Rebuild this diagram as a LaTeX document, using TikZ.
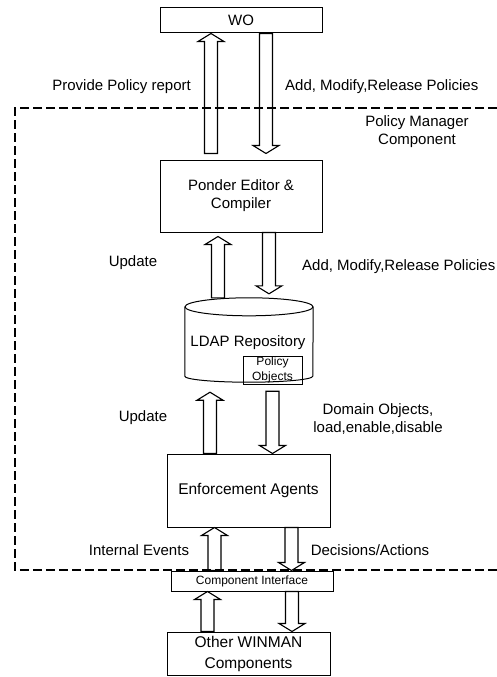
\documentclass[tikz,border=0pt]{standalone}
\usepackage{fontspec}
\setmainfont{Liberation Sans}
\usetikzlibrary{calc}

% hollow block arrows, drawn from #1 (tail) to #2 (tip)
\newcommand{\fatup}[2]{\draw[blockarr] let \p1=(#1), \p2=(#2) in
  (\x1-6.5pt,\y1) -- (\x1-6.5pt,\y2-8pt) -- (\x1-13pt,\y2-8pt) -- (\x1,\y2)
  -- (\x1+13pt,\y2-8pt) -- (\x1+6.5pt,\y2-8pt) -- (\x1+6.5pt,\y1) -- cycle;}
\newcommand{\fatdn}[2]{\draw[blockarr] let \p1=(#1), \p2=(#2) in
  (\x1-6.5pt,\y1) -- (\x1-6.5pt,\y2+8pt) -- (\x1-13pt,\y2+8pt) -- (\x1,\y2)
  -- (\x1+13pt,\y2+8pt) -- (\x1+6.5pt,\y2+8pt) -- (\x1+6.5pt,\y1) -- cycle;}

\begin{document}
\begin{tikzpicture}[x=1pt,y=-1pt,
    box/.style={draw,line width=1pt,inner sep=0pt,align=center,font=\fontsize{15}{18}\selectfont},
    lbl/.style={inner sep=0pt,align=center,font=\fontsize{15}{18}\selectfont},
    small/.style={font=\fontsize{12}{15}\selectfont},
    blockarr/.style={line width=1.1pt,line join=miter}]
    \useasboundingbox (0,0) rectangle (497,677);

    % Policy manager frame
    \draw[line width=1.2pt,dash pattern=on 9pt off 4pt] (497,108) -- (15,108) -- (15,570) -- (497,570);
    \node[lbl] (pmc) at (417,131.5) {Policy Manager\\Component};

    % Boxes
    \node[box,minimum width=162pt,minimum height=25pt] (wo) at (241,20.5) {WO};
    \node[box,minimum width=162pt,minimum height=72pt] (ponder) at (241,196) {Ponder Editor \&\\Compiler};
    \node[box,minimum width=163pt,minimum height=73pt,font=\fontsize{15.5}{18}\selectfont] (enf) at (248.5,490.5) {Enforcement Agents};
    \node[box,small,minimum width=162pt,minimum height=20pt] (iface) at (252,581) {Component Interface};
    \node[box,minimum width=163pt,minimum height=43pt,font=\fontsize{15.5}{21}\selectfont] (other) at (248.5,653.5) {Other WINMAN\\Components};

    % LDAP cylinder
    \node[inner sep=0pt,minimum width=128pt,minimum height=84pt] (ldap) at (249,340) {};
    \draw[line width=1pt] ([yshift=-9pt]ldap.north west) -- ([yshift=6pt]ldap.south west)
        arc[start angle=180,end angle=360,x radius=64pt,y radius=6pt] -- ([yshift=-9pt]ldap.north east);
    \draw[line width=1pt] ([yshift=-9pt]ldap.north) ellipse[x radius=64pt,y radius=9pt];
    \node[lbl] (ldaptxt) at (248,343) {LDAP Repository};
    \node[box,small,minimum width=59pt,minimum height=28pt,font=\fontsize{12}{15}\selectfont] (objs) at (272.5,370) {Policy\\Objects};

    % Block arrows
    \fatup{[xshift=-30pt,yshift=6pt]ponder.north}{[xshift=-30pt]wo.south}
    \fatdn{[xshift=25pt]wo.south}{[xshift=25pt,yshift=6pt]ponder.north}
    \fatup{[xshift=-31pt]ldap.north}{[xshift=-31pt,yshift=-4pt]ponder.south}
    \fatdn{[xshift=28pt]ponder.south}{[xshift=28pt,yshift=4pt]ldap.north}
    \fatup{[xshift=-38.5pt]enf.north}{[xshift=-38.5pt,yshift=-10pt]ldap.south}
    \fatdn{[xshift=23.5pt,yshift=-9pt]ldap.south}{[xshift=23.5pt]enf.north}
    \fatup{[xshift=-37.5pt]iface.north}{[xshift=-37.5pt]enf.south}
    \fatdn{[xshift=43pt]enf.south}{[xshift=43pt]iface.north}
    \fatup{[xshift=-41pt]other.north}{[xshift=-41pt]iface.south}
    \fatdn{[xshift=40pt]iface.south}{[xshift=40pt]other.north}

    % Labels
    \node[lbl,anchor=east] (rep) at (191,87) {Provide Policy report};
    \node[lbl,anchor=west] (amr1) at (285,87) {Add, Modify,Release Policies};
    \node[lbl] (upd1) at (133,263) {Update};
    \node[lbl,anchor=west] (amr2) at (302,267) {Add, Modify,Release Policies};
    \node[lbl] (upd2) at (143,418) {Update};
    \node[lbl] (dom) at (378,419) {Domain Objects,\\load,enable,disable};
    \node[lbl] (ievt) at (139,550) {Internal Events};
    \node[lbl] (dec) at (370,550) {Decisions/Actions};
\end{tikzpicture}
\end{document}
